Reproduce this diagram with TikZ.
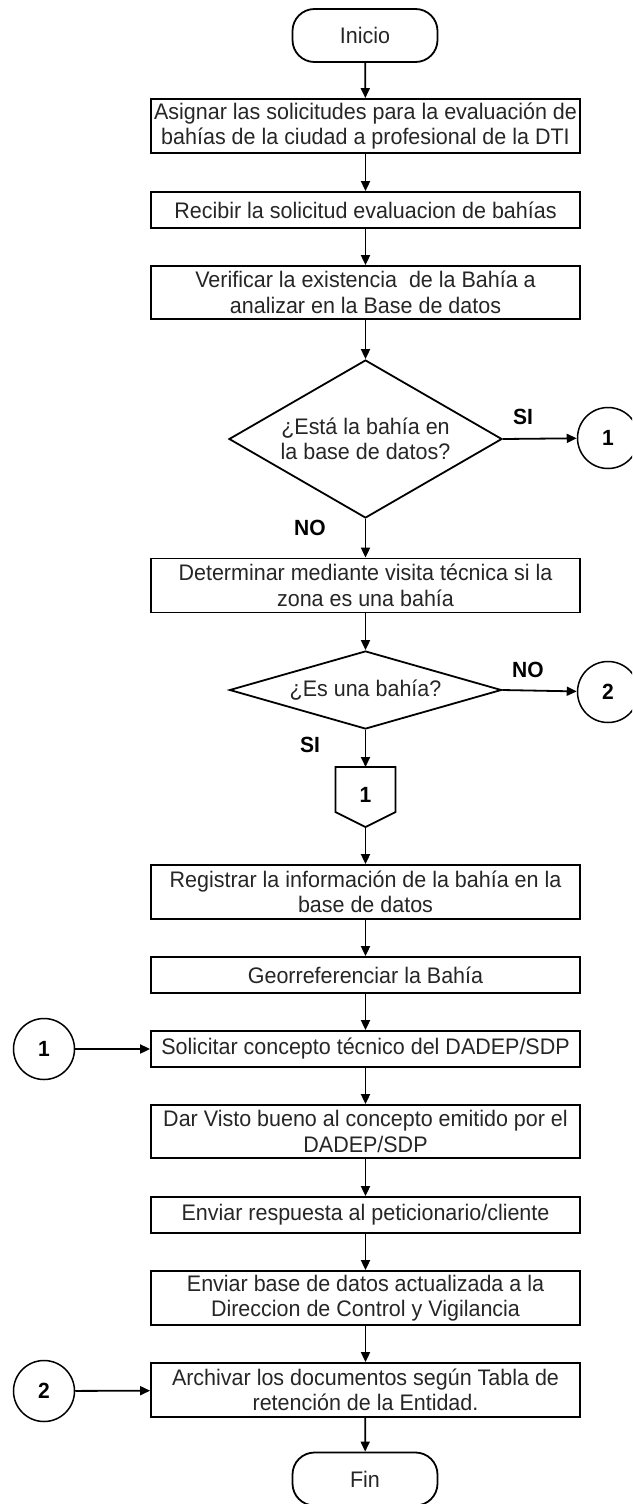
\documentclass[tikz,border=0pt]{standalone}
\usepackage{fontspec}
\setmainfont{Liberation Sans}[FakeStretch=0.955]
\usetikzlibrary{shapes.geometric,arrows.meta}
\begin{document}
\begin{tikzpicture}[x=1pt,y=-1pt,
  txt/.style={font=\fontsize{22.5}{25.5}\selectfont, text=black!85},
  proc/.style={txt, draw, line width=1.8pt, rectangle, minimum width=429pt, inner sep=0pt, align=center},
  term/.style={txt, draw, line width=1.8pt, rectangle, rounded corners=22pt, minimum width=145pt, minimum height=53pt, inner sep=0pt},
  decision/.style={txt, draw, line width=1.8pt, diamond, inner sep=0pt, align=center},
  conncirc/.style={draw, line width=1.5pt, circle, minimum size=61pt, inner sep=0pt, font=\bfseries\fontsize{22}{24}\selectfont},
  lbl/.style={font=\bfseries\fontsize{22}{24}\selectfont},
  conn/.style={line width=1.8pt, -{Triangle[length=10pt,width=9pt]}}
]
\clip (0,0) rectangle (632,1504);
\fill[white] (0,0) rectangle (632,1504);

\node[term] (ini) at (365,35.5) {Inicio};
\node[proc, minimum height=54pt] (b1) at (365.5,126) {Asignar las solicitudes para la evaluación de\\bahías de la ciudad a profesional de la DTI};
\node[proc, minimum height=36pt] (b2) at (365.5,210) {Recibir la solicitud evaluacion de bahías};
\node[proc, minimum height=53pt] (b3) at (365.5,292.5) {Verificar la existencia \ de la Bahía a\\analizar en la Base de datos};
\node[decision, minimum width=273pt, minimum height=158pt, aspect=1.73] (d1) at (365.5,439) {¿Está la bahía en\\la base de datos?};
\node[conncirc] (c1r) at (608,438) {1};
\node[lbl] (si1) at (523,417) {SI};
\node[lbl] (no1) at (310,528) {NO};
\node[proc, minimum height=54pt] (b4) at (365.5,585.5) {Determinar mediante visita técnica si la\\zona es una bahía};
\node[decision, minimum width=272pt, minimum height=78pt, aspect=3.5] (d2) at (365.5,690) {¿Es una bahía?};
\node[conncirc] (c2r) at (608,692) {2};
\node[lbl] (no2) at (528,670) {NO};
\node[lbl] (si2) at (310,745) {SI};

% off-page connector
\coordinate (pt) at (365.5,767);
\coordinate (pb) at (365.5,827);
\draw[line width=1.8pt, line join=miter] (335.5,767) -- (395.5,767) -- (395.5,812) -- (pb) -- (335.5,812) -- cycle;
\node[lbl] (pc) at (365.5,795) {1};

\node[proc, minimum height=54pt] (b5) at (365.5,892) {Registrar la información de la bahía en la\\base de datos};
\node[proc, minimum height=36pt] (b6) at (365.5,975) {Georreferenciar la Bahía};
\node[proc, minimum height=36pt] (b7) at (365.5,1049) {Solicitar concepto técnico del DADEP/SDP};
\node[conncirc] (c1l) at (44,1049) {1};
\node[proc, minimum height=53pt] (b8) at (365.5,1131.5) {Dar Visto bueno al concepto emitido por el\\DADEP/SDP};
\node[proc, minimum height=36pt] (b9) at (365.5,1215) {Enviar respuesta al peticionario/cliente};
\node[proc, minimum height=54pt] (b10) at (365.5,1298) {Enviar base de datos actualizada a la\\Direccion de Control y Vigilancia};
\node[proc, minimum height=54pt] (b11) at (365.5,1390) {Archivar los documentos según Tabla de\\retención de la Entidad.};
\node[conncirc] (c2l) at (44,1391) {2};
\node[term] (fin) at (365,1479) {Fin};

\draw[conn] (ini) -- (b1);
\draw[conn] (b1) -- (b2);
\draw[conn] (b2) -- (b3);
\draw[conn] (b3) -- (d1);
\draw[conn] (d1.east) -- (c1r);
\draw[conn] (d1.south) -- (b4);
\draw[conn] (b4) -- (d2);
\draw[conn] (d2.east) -- (c2r);
\draw[conn] (d2.south) -- (pt);
\draw[conn] (pb) -- (b5);
\draw[conn] (b5) -- (b6);
\draw[conn] (b6) -- (b7);
\draw[conn] (c1l) -- (b7);
\draw[conn] (b7) -- (b8);
\draw[conn] (b8) -- (b9);
\draw[conn] (b9) -- (b10);
\draw[conn] (b10) -- (b11);
\draw[conn] (c2l) -- (b11);
\draw[conn] (b11) -- (fin);
\end{tikzpicture}
\end{document}
